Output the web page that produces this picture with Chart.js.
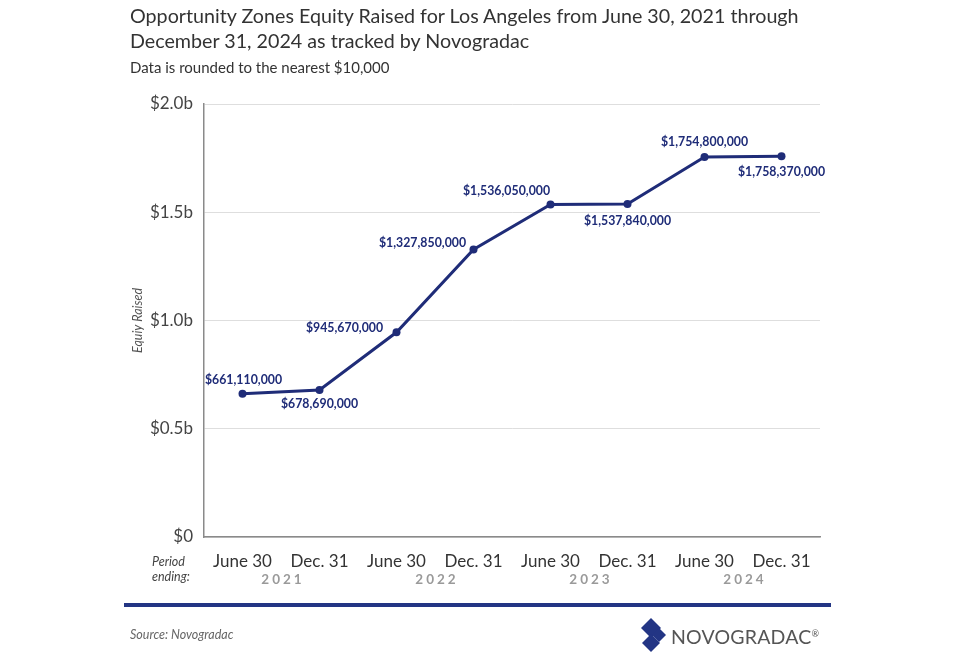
<!DOCTYPE html>
<html>
<head>
<meta charset="utf-8">
<script src="https://cdn.jsdelivr.net/npm/chart.js@4"></script>
<style>
  html,body{margin:0;padding:0;background:#fff;}
  body{width:960px;height:654px;position:relative;overflow:hidden;font-family:Lato,"Open Sans",sans-serif;color:#333;}
  #wrap{position:absolute;left:0;top:0;width:960px;height:654px;}
  .title{position:absolute;left:130px;top:3px;font-size:19.7px;line-height:25px;color:#333;}
  .sub{position:absolute;left:130px;top:58px;font-size:15px;color:#333;}
  .period{position:absolute;left:152px;top:554px;font-size:12.5px;line-height:15px;font-style:italic;color:#444;}
  .rule{position:absolute;left:124px;top:603px;width:707px;height:4px;background:#233584;}
  .source{position:absolute;left:130px;top:627px;font-size:12.5px;font-style:italic;color:#666;}
  .logo{position:absolute;left:639px;top:618px;height:36px;display:flex;align-items:center;}
  .logo span{font-size:19.5px;color:#555;letter-spacing:0.2px;margin-left:4px;}
  .logo sup{font-size:9px;}
</style>
</head>
<body>
<div id="wrap"><canvas id="c" width="960" height="654"></canvas></div>
<div class="title">Opportunity Zones Equity Raised for Los Angeles from June 30, 2021 through<br>December 31, 2024 as tracked by Novogradac</div>
<div class="sub">Data is rounded to the nearest $10,000</div>
<div class="period">Period<br>ending:</div>
<div class="rule"></div>
<div class="source">Source: Novogradac</div>
<div class="logo">
  <svg width="28" height="36" viewBox="0 0 28 36">
    <polygon points="12,0 22,10 12,20 2,10" fill="#233584"/>
    <polygon points="20,10 27,17 20,24 13,17" fill="#233584"/>
    <polygon points="12,16 21,25 12,34 3,25" fill="#233584"/>
  </svg>
  <span>NOVOGRADAC<sup>®</sup></span>
</div>
<script>
const PERIODS = ['June 30','Dec. 31','June 30','Dec. 31','June 30','Dec. 31','June 30','Dec. 31'];
const YEARS = ['2021','2022','2023','2024'];
const EQUITY = [661110000, 678690000, 945670000, 1327850000, 1536050000, 1537840000, 1754800000, 1758370000];
const Y_TICKS = [0, 500000000, 1000000000, 1500000000, 2000000000];

const NAVY = '#1f2c78';
// where each value label sits relative to its point
const LABEL_OFFSETS = [[1,-14],[0,14],[-52,-4],[-51,-6],[-44,-13],[0,17],[0,-15],[0,16]];

function fmtMoney(v){ return '$' + v.toLocaleString('en-US'); }
function fmtTick(v){
  if (v === 0) return '$0';
  return '$' + (v/1e9).toFixed(1) + 'b';
}

const extras = {
  id:'extras',
  afterDatasetsDraw(chart){
    const ctx = chart.ctx;
    const meta = chart.getDatasetMeta(0);
    ctx.save();
    ctx.font = 'bold 12.3px Lato, sans-serif';
    ctx.fillStyle = NAVY;
    ctx.textAlign = 'center';
    ctx.textBaseline = 'middle';
    meta.data.forEach((pt,i) => {
      const [dx,dy] = LABEL_OFFSETS[i];
      ctx.fillText(fmtMoney(EQUITY[i]), pt.x+dx, pt.y+dy);
    });
    ctx.restore();
  },
  afterDraw(chart){
    const ctx = chart.ctx;
    const xs = chart.scales.x, area = chart.chartArea;
    ctx.save();
    // year labels under each pair of periods
    ctx.font = 'bold 13.5px Lato, sans-serif';
    ctx.fillStyle = '#9a9a9a';
    ctx.textAlign = 'center';
    ctx.textBaseline = 'middle';
    ctx.letterSpacing = '3px';
    YEARS.forEach((y,i) => {
      const x = (xs.getPixelForValue(i*2) + xs.getPixelForValue(i*2+1)) / 2;
      ctx.fillText(y, x+2, 580);
    });
    ctx.letterSpacing = '0px';
    // y axis title
    ctx.translate(138, (area.top+area.bottom)/2);
    ctx.rotate(-Math.PI/2);
    ctx.font = 'italic 12.5px Lato, sans-serif';
    ctx.fillStyle = '#555';
    ctx.fillText('Equiy Raised', 0, 0);
    ctx.restore();
  }
};

new Chart(document.getElementById('c'), {
  type:'line',
  data:{
    labels: PERIODS,
    datasets:[{
      data: EQUITY,
      borderColor: NAVY,
      backgroundColor: NAVY,
      borderWidth: 3,
      pointRadius: 4,
      pointHoverRadius: 4,
      pointBackgroundColor: NAVY,
      pointBorderWidth: 0,
      tension: 0,
      fill: false,
    }]
  },
  options:{
    responsive:false,
    animation:false,
    layout:{ padding:{ top:104, right:140, left:0, bottom:0 } },
    plugins:{ legend:{ display:false }, tooltip:{ enabled:false } },
    scales:{
      x:{
        offset:true,
        grid:{ display:false, drawTicks:false },
        border:{ color:'#8a8a8a', width:1.5 },
        ticks:{ color:'#333', font:{ family:'Lato', size:17 }, padding:14, maxRotation:0, autoSkip:false },
        afterFit(s){ s.height = 117; }
      },
      y:{
        min:0, max:2000000000,
        afterBuildTicks(s){ s.ticks = Y_TICKS.map(v => ({ value:v })); },
        grid:{ color:'#dedede', lineWidth:1, drawTicks:false },
        border:{ color:'#8a8a8a', width:1.5 },
        ticks:{ color:'#444', font:{ family:'Lato', size:17 }, padding:11, callback:fmtTick },
        afterFit(s){ s.width = 204; }
      }
    }
  },
  plugins:[extras]
});
</script>
</body>
</html>
